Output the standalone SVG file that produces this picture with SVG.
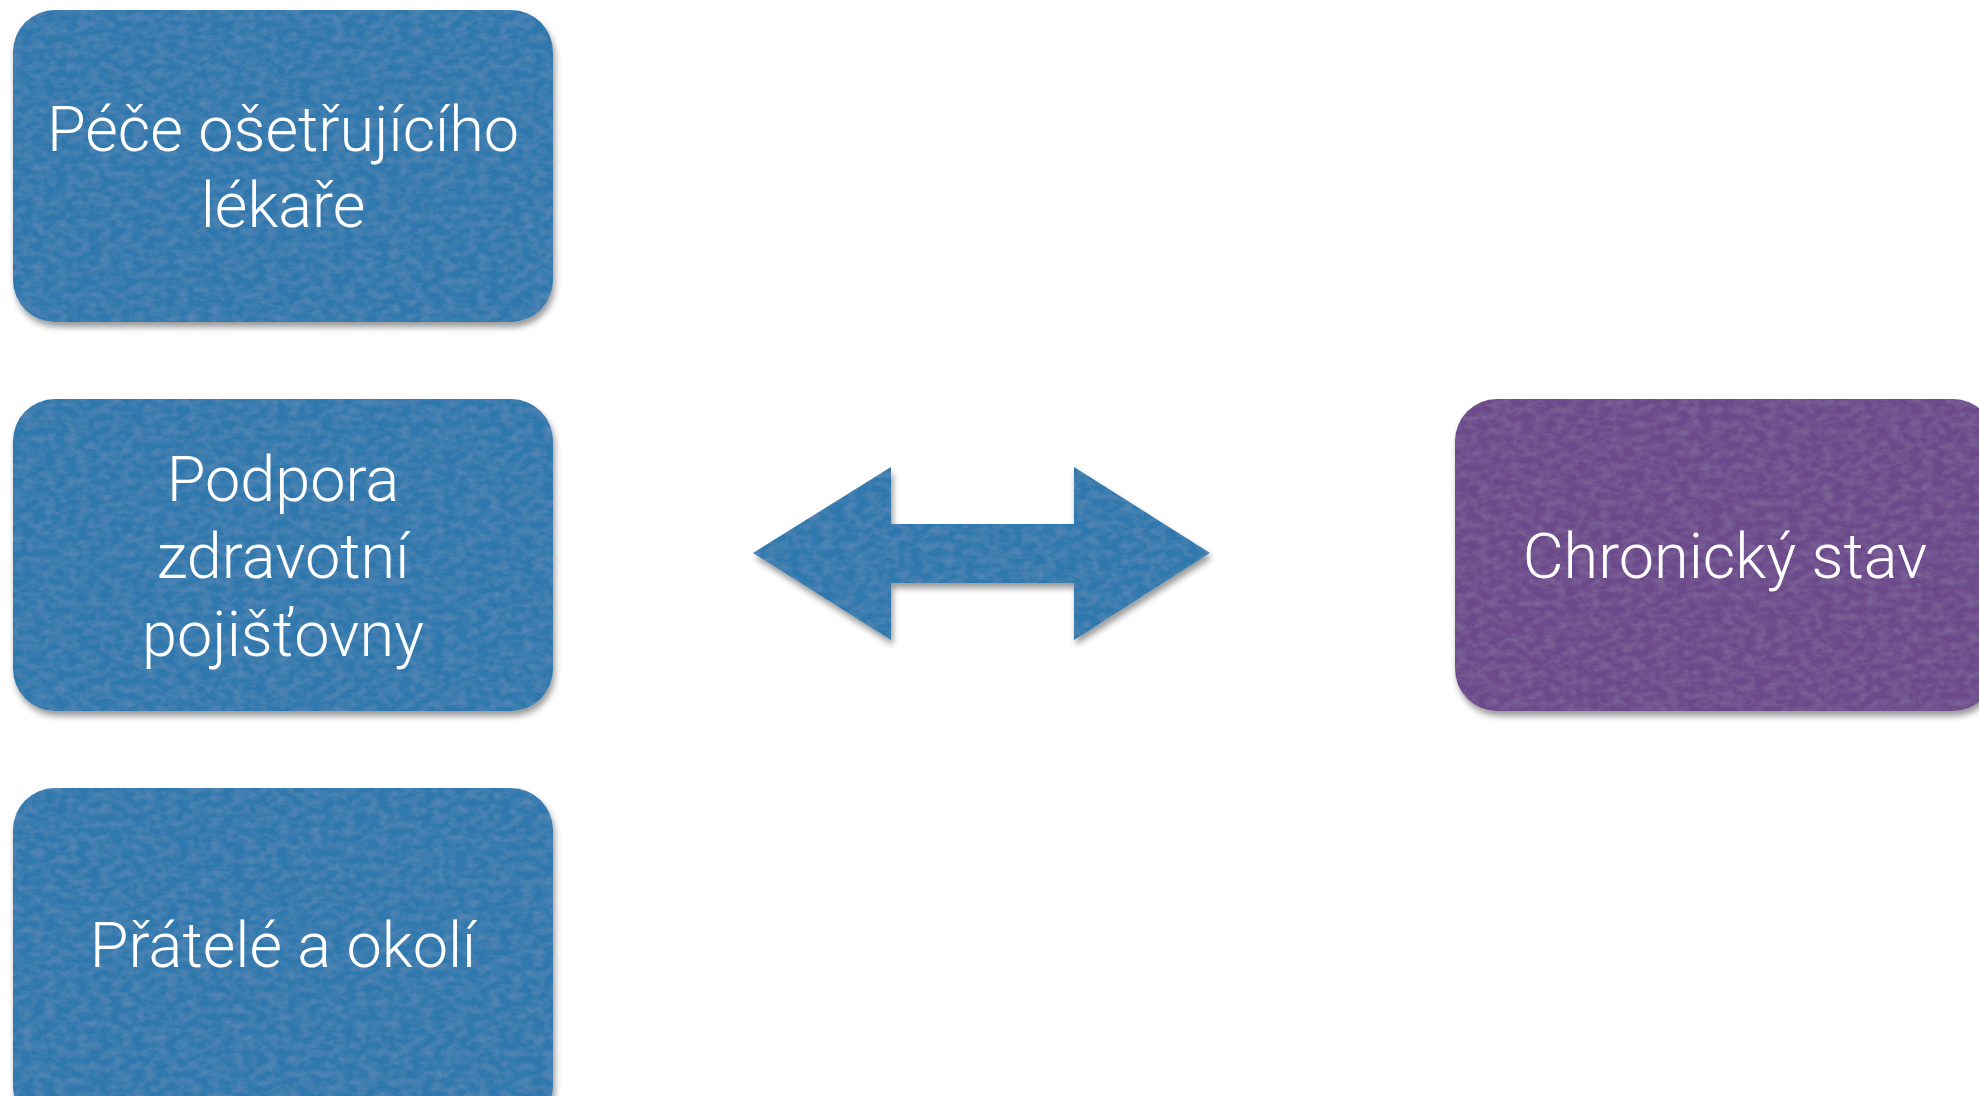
<svg xmlns="http://www.w3.org/2000/svg" width="1979" height="1096" viewBox="0 0 1979 1096">
  <defs>
    <filter id="felt" x="-5%" y="-5%" width="112%" height="115%">
      <feTurbulence type="fractalNoise" baseFrequency="0.09 0.14" numOctaves="3" seed="7" result="noise"/>
      <feColorMatrix in="noise" type="matrix" values="0 0 0 0 1  0 0 0 0 1  0 0 0 0 1  0 0 0 0.12 -0.04" result="light"/>
      <feComposite in="light" in2="SourceGraphic" operator="in" result="lightIn"/>
      <feDropShadow in="SourceGraphic" dx="2" dy="5" stdDeviation="3" flood-color="#000" flood-opacity="0.4" result="shadowed"/>
      <feMerge>
        <feMergeNode in="shadowed"/>
        <feMergeNode in="lightIn"/>
      </feMerge>
    </filter>
    <style>
      .blue { fill: #2d78ad; }
      .purple { fill: #6c488b; }
      .lbl { font-family: Roboto, "Liberation Sans", "DejaVu Sans", sans-serif; font-weight: 300; font-size: 63px; fill: #ffffff; text-anchor: middle; }
    </style>
  </defs>
  <rect width="1979" height="1096" fill="#ffffff"/>

  <g id="node-pece">
    <rect class="blue" x="13" y="10" width="540" height="312" rx="42" filter="url(#felt)"/>
    <text class="lbl" x="283" y="151">Péče ošetřujícího</text>
    <text class="lbl" x="283" y="227">lékaře</text>
  </g>

  <g id="node-podpora">
    <rect class="blue" x="13" y="399" width="540" height="312" rx="42" filter="url(#felt)"/>
    <text class="lbl" x="283" y="501">Podpora</text>
    <text class="lbl" x="283" y="578">zdravotní</text>
    <text class="lbl" x="283" y="656">pojišťovny</text>
  </g>

  <g id="node-pratele">
    <rect class="blue" x="13" y="788" width="540" height="340" rx="42" filter="url(#felt)"/>
    <text class="lbl" x="283" y="967">Přátelé a okolí</text>
  </g>

  <g id="node-chronicky">
    <rect class="purple" x="1455" y="399" width="540" height="312" rx="42" filter="url(#felt)"/>
    <text class="lbl" x="1725" y="578">Chronický stav</text>
  </g>

  <g id="connectors">
    <polygon class="blue" filter="url(#felt)" points="753,553 891,467 891,524 1074,524 1074,467 1210,553 1074,640 1074,583 891,583 891,640"/>
  </g>
</svg>
